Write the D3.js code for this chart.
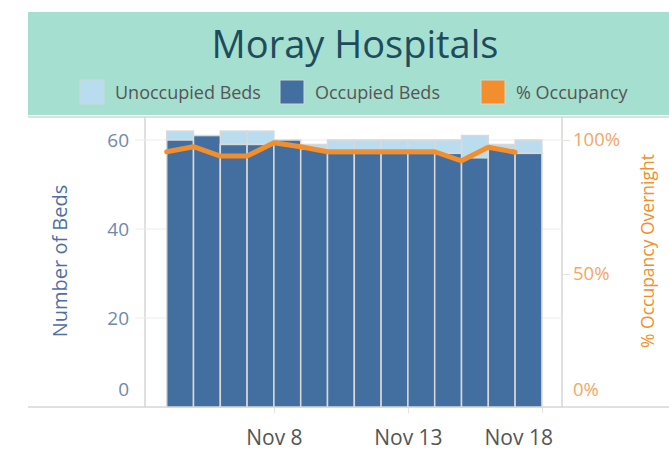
<!DOCTYPE html>
<html>
<head>
<meta charset="utf-8">
<script src="https://cdn.jsdelivr.net/npm/d3@7"></script>
<style>
  body { margin: 0; background: #fff; }
  text { font-family: "Open Sans", Lato, sans-serif; }
</style>
</head>
<body>
<div id="plot"></div>
<script>
// data
var dates = ["2020-11-04", "2020-11-05", "2020-11-06", "2020-11-07", "2020-11-08", "2020-11-09", "2020-11-10",
             "2020-11-11", "2020-11-12", "2020-11-13", "2020-11-14", "2020-11-15", "2020-11-16", "2020-11-17"];
var totalBeds =    [62, 61, 62, 62, 60, 59, 60, 60, 60, 60, 60, 61, 59, 60];
var occupiedBeds = [60, 61, 59, 59, 60, 58, 57, 57, 57, 57, 57, 56, 58, 57];
var pctOccupancy = [0.956, 0.975, 0.94, 0.94, 0.99, 0.975, 0.956, 0.956, 0.956, 0.956, 0.956, 0.922, 0.973, 0.954];
var xTickDates = ["2020-11-08", "2020-11-13", "2020-11-18"];
var leftTicks = [0, 20, 40, 60];
var rightTicks = [0, 0.5, 1];
var legendLabels = ["Unoccupied Beds", "Occupied Beds", "% Occupancy"];

/* Step 1
 * workspace
 */
var svgWidth = 669;
var svgHeight = 461;
var plot = { left: 145, right: 562, top: 117, bottom: 407 };

var svg = d3.select("#plot")
    .append("svg")
    .attr("width", svgWidth)
    .attr("height", svgHeight);

var parseDay = d3.utcParse("%Y-%m-%d");
var dayMs = 864e5;
var days = dates.map(parseDay);

/* Step 2
 * scales
 */
var xScale = d3.scaleUtc()
    .domain([new Date(+days[0] - 0.81 * dayMs), new Date(+parseDay(xTickDates[2]) + 0.75 * dayMs)])
    .range([plot.left, plot.right]);

var yLeft = d3.scaleLinear()
    .domain([0, 60])
    .range([plot.bottom, 140]);

var yRight = d3.scaleLinear()
    .domain([0, 1])
    .range([plot.bottom, 140]);

var colors = {
    unocc: "#b9dcef",
    occ: "#426f9f",
    pct: "#f28e2b",
    header: "#a5dfd0",
    title: "#1e4c5c"
};

/* Step 3
 * header with title and legend
 */
svg.append("rect")
    .attr("x", 28).attr("y", 12)
    .attr("width", svgWidth - 28).attr("height", 103)
    .attr("fill", colors.header);

svg.append("text")
    .attr("x", 355).attr("y", 58)
    .attr("text-anchor", "middle")
    .attr("font-size", "38px")
    .attr("fill", colors.title)
    .text("Moray Hospitals");

var legendColors = [colors.unocc, colors.occ, colors.pct];
var legendX = [80, 280, 481];
var legend = svg.selectAll(".legend")
    .data(legendLabels)
    .enter()
    .append("g")
    .attr("class", "legend")
    .attr("transform", (d, i) => `translate(${legendX[i]}, 80)`);

legend.append("rect")
    .attr("width", 24).attr("height", 24)
    .attr("fill", (d, i) => legendColors[i])
    .attr("stroke", "#cfd8dc")
    .attr("stroke-width", 1);

legend.append("text")
    .attr("x", 35).attr("y", 19)
    .attr("font-size", "18px")
    .attr("fill", "#555")
    .text(d => d);

/* Step 4
 * frame, gridlines, axes
 */
var frame = svg.append("g").attr("stroke", "#d6d6d6").attr("stroke-width", 1.5);
frame.append("line").attr("x1", 28).attr("x2", svgWidth).attr("y1", plot.top).attr("y2", plot.top);
frame.append("line").attr("x1", 28).attr("x2", svgWidth).attr("y1", plot.bottom).attr("y2", plot.bottom);
frame.append("line").attr("x1", plot.left).attr("x2", plot.left).attr("y1", plot.top).attr("y2", plot.bottom);
frame.append("line").attr("x1", plot.right).attr("x2", plot.right).attr("y1", plot.top).attr("y2", plot.bottom);

// gridlines
svg.append("g")
    .selectAll("line")
    .data(leftTicks.slice(1))
    .enter()
    .append("line")
    .attr("x1", plot.left - 10).attr("x2", plot.right)
    .attr("y1", d => yLeft(d)).attr("y2", d => yLeft(d))
    .attr("stroke", "#ececec");

// left axis
var leftAxis = d3.axisLeft(yLeft).tickValues(leftTicks).tickSize(0).tickPadding(0);
var leftG = svg.append("g")
    .attr("transform", `translate(129, 0)`)
    .call(leftAxis);
leftG.select(".domain").remove();
leftG.selectAll("text")
    .attr("font-size", "19px")
    .attr("fill", "#7188ad")
    .attr("dy", d => d === 0 ? "-0.6em" : "0.32em");

svg.append("text")
    .attr("transform", `translate(67, 261) rotate(-90)`)
    .attr("text-anchor", "middle")
    .attr("font-size", "20px")
    .attr("fill", "#4f6fa3")
    .text("Number of Beds");

// right axis
var rightAxis = d3.axisRight(yRight).tickValues(rightTicks).tickSize(8).tickPadding(3)
    .tickFormat(d3.format(".0%"));
var rightG = svg.append("g")
    .attr("transform", `translate(${plot.right}, 0)`)
    .call(rightAxis);
rightG.select(".domain").remove();
rightG.selectAll("line").attr("stroke", d => d === 0 ? "none" : "#e3e3e3");
rightG.selectAll("text")
    .attr("font-size", "18.5px")
    .attr("fill", "#f6a566")
    .attr("dy", d => d === 0 ? "-0.6em" : "0.32em");

svg.append("text")
    .attr("transform", `translate(654, 251) rotate(-90)`)
    .attr("text-anchor", "middle")
    .attr("font-size", "17.5px")
    .attr("fill", colors.pct)
    .text("% Occupancy Overnight");

// x axis
var xTicks = xTickDates.map(parseDay);
var bottomAxis = d3.axisBottom(xScale)
    .tickValues(xTicks)
    .tickSize(6)
    .tickPadding(17)
    .tickFormat(d3.utcFormat("%b %-d"));
var xG = svg.append("g")
    .attr("transform", `translate(0, ${plot.bottom})`)
    .call(bottomAxis);
xG.select(".domain").remove();
xG.selectAll("line").attr("stroke", "#e3e3e3");
xG.selectAll("text")
    .attr("font-size", "21px")
    .attr("fill", "#555")
    .attr("text-anchor", (d, i) => i === xTicks.length - 1 ? "end" : "middle")
    .attr("dx", (d, i) => i === xTicks.length - 1 ? "0.5em" : 0);

/* Step 5
 * bars and line
 */
var barW = xScale(new Date(+days[0] + dayMs)) - xScale(days[0]);

var bars = svg.append("g")
    .attr("stroke", "#d9d9d9")
    .attr("stroke-width", 1.5);

bars.selectAll(".unocc")
    .data(days)
    .enter()
    .append("rect")
    .attr("class", "unocc")
    .attr("x", d => xScale(d))
    .attr("width", barW)
    .attr("y", (d, i) => yLeft(totalBeds[i]))
    .attr("height", (d, i) => yLeft(occupiedBeds[i]) - yLeft(totalBeds[i]))
    .attr("fill", colors.unocc);

bars.selectAll(".occ")
    .data(days)
    .enter()
    .append("rect")
    .attr("class", "occ")
    .attr("x", d => xScale(d))
    .attr("width", barW)
    .attr("y", (d, i) => yLeft(occupiedBeds[i]))
    .attr("height", (d, i) => yLeft(0) - yLeft(occupiedBeds[i]))
    .attr("fill", colors.occ);

var line = d3.line()
    .x((d, i) => xScale(days[i]))
    .y(d => yRight(d));

svg.append("path")
    .datum(pctOccupancy)
    .attr("d", line)
    .attr("fill", "none")
    .attr("stroke", colors.pct)
    .attr("stroke-width", 5)
    .attr("stroke-linejoin", "round")
    .attr("stroke-linecap", "round");

svg.selectAll(".domain, .tick line").attr("shape-rendering", "crispEdges");
</script>
</body>
</html>
